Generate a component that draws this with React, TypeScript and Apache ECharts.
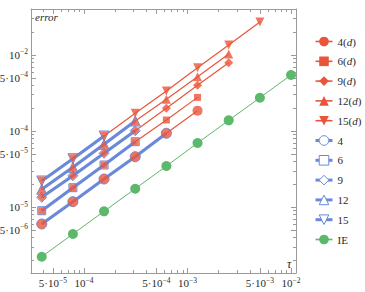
import React, { useEffect, useRef } from "react";
import * as echarts from "echarts";

// time steps tau (x)
const tau = [3.90625e-5, 7.8125e-5, 1.5625e-4, 3.125e-4, 6.25e-4, 1.25e-3, 2.5e-3, 5e-3, 1e-2];

// red series (d)
const err4d = [5.98e-6, 1.175e-5, 2.335e-5, 4.59e-5, 9.33e-5, 1.85e-4];
const err6d = [8.94e-6, 1.795e-5, 3.57e-5, 7.23e-5, 1.395e-4, 2.77e-4];
const err9d = [1.343e-5, 2.58e-5, 5.09e-5, 1.009e-4, 1.99e-4, 3.99e-4, 7.92e-4];
const err12d = [1.71e-5, 3.33e-5, 6.68e-5, 1.355e-4, 2.61e-4, 5.18e-4, 1.03e-3];
const err15d = [2.2e-5, 4.32e-5, 8.59e-5, 1.71e-4, 3.36e-4, 6.81e-4, 1.355e-3, 2.72e-3];

// blue series
const err4 = [5.98e-6, 1.175e-5, 2.335e-5, 4.59e-5, 9.33e-5];
const err6 = [8.94e-6, 1.795e-5, 3.57e-5, 7.23e-5];
const err9 = [1.343e-5, 2.58e-5, 5.09e-5, 1.009e-4];
const err12 = [1.71e-5, 3.33e-5, 6.68e-5, 1.355e-4];
const err15 = [2.2e-5, 4.32e-5, 8.59e-5];

// green
const errIE = [2.22e-6, 4.42e-6, 8.78e-6, 1.74e-5, 3.46e-5, 6.95e-5, 1.38e-4, 2.74e-4, 5.46e-4];

const redNames = ["4(d)", "6(d)", "9(d)", "12(d)", "15(d)"];
const blueNames = ["4", "6", "9", "12", "15"];
const ieName = "IE";

const xLabelValues = [5e-5, 1e-4, 5e-4, 1e-3, 5e-3, 1e-2];
const xLabelTexts = ["5·10^-5", "10^-4", "5·10^-4", "10^-3", "5·10^-3", "10^-2"];
const xMinorValues = [4e-5, 6e-5, 7e-5, 8e-5, 9e-5, 2e-4, 3e-4, 4e-4, 6e-4, 7e-4, 8e-4, 9e-4, 2e-3, 3e-3, 4e-3, 6e-3, 7e-3, 8e-3, 9e-3];
const yLabelValues = [5e-6, 1e-5, 5e-5, 1e-4, 5e-4, 1e-3];
const yLabelTexts = ["5·10^-6", "10^-5", "5·10^-5", "10^-4", "5·10^-4", "10^-2"];
const yMinorValues = [2e-6, 3e-6, 4e-6, 6e-6, 7e-6, 8e-6, 9e-6, 2e-5, 3e-5, 4e-5, 6e-5, 7e-5, 8e-5, 9e-5, 2e-4, 3e-4, 4e-4, 6e-4, 7e-4, 8e-4, 9e-4, 2e-3, 3e-3];

const L = (v: number) => Math.log10(v);
const RED = "#e8553b";
const BLUE = "#6a8ad9";
const GREEN = "#5cb86a";
const FRAME = "#9a9a9a";
const TXT = "#2a2a2a";
const SERIF = '"Liberation Serif", "DejaVu Serif", serif';

const X_MIN = -4.512, X_MAX = -1.952;
const Y_MIN = -5.868, Y_MAX = -2.395;

function richLabel(t: string) {
  const [b, e] = t.split("^");
  return `{b|${b}}{s|${e.replace("-", "−")}}`;
}
function makeFormatter(vals: number[], texts: string[]) {
  return (v: number) => {
    const i = vals.findIndex((x) => Math.abs(L(x) - v) < 1e-6);
    return i >= 0 ? richLabel(texts[i]) : "";
  };
}
const labelRich = {
  b: { fontSize: 11, fontFamily: SERIF, color: TXT, lineHeight: 14 },
  s: { fontSize: 7.5, fontFamily: SERIF, color: TXT, verticalAlign: "top" },
};

function makeAxes(dim: "x" | "y") {
  const isX = dim === "x";
  const min = isX ? X_MIN : Y_MIN;
  const max = isX ? X_MAX : Y_MAX;
  const major = (isX ? xLabelValues : yLabelValues).map(L);
  const minor = (isX ? xMinorValues : yMinorValues).map(L);
  const positions = isX ? ["bottom", "top"] : ["left", "right"];
  const axes: any[] = [];
  positions.forEach((pos, pi) => {
    axes.push({
      type: "value",
      position: pos,
      min,
      max,
      axisLine: { show: true, onZero: false, lineStyle: { color: FRAME, width: 1 } },
      axisTick: { show: true, inside: true, length: 5, customValues: major, lineStyle: { color: FRAME } },
      axisLabel: pi === 0
        ? {
            show: true,
            customValues: major,
            margin: 3,
            formatter: makeFormatter(isX ? xLabelValues : yLabelValues, isX ? xLabelTexts : yLabelTexts),
            rich: labelRich,
          }
        : { show: false },
      splitLine: { show: false },
    });
    axes.push({
      type: "value",
      position: pos,
      min,
      max,
      axisLine: { show: false, onZero: false },
      axisTick: { show: true, inside: true, length: 3, customValues: minor, lineStyle: { color: FRAME } },
      axisLabel: { show: false },
      splitLine: { show: false },
    });
  });
  return axes;
}

const pts = (errs: number[]) => errs.map((e, i) => [L(tau[i]), L(e)]);

export default function App() {
  const ref = useRef<HTMLDivElement>(null);
  useEffect(() => {
    document.body.style.margin = "0";
    const chart = echarts.init(ref.current!, undefined, { renderer: "svg" });
    const redData = [err4d, err6d, err9d, err12d, err15d];
    const blueData = [err4, err6, err9, err12, err15];
    const symbols = ["circle", "rect", "diamond", "triangle", "triangle"];
    const rotates = [0, 0, 0, 0, 180];
    const redSizes = [10, 7, 9, 9, 9];
    const blueSizes = [10, 8, 10, 10, 10];

    const series: any[] = [];
    redNames.forEach((n, i) => {
      series.push({
        type: "line",
        name: n,
        data: pts(redData[i]),
        symbol: symbols[i],
        symbolRotate: rotates[i],
        symbolSize: redSizes[i],
        showSymbol: false,
        lineStyle: { color: RED, width: 1.2 },
        itemStyle: { color: RED },
        z: 1,
        silent: true,
      });
    });
    blueNames.forEach((n, i) => {
      series.push({
        type: "line",
        name: n,
        data: pts(blueData[i]),
        symbol: symbols[i],
        symbolRotate: rotates[i],
        symbolSize: blueSizes[i],
        lineStyle: { color: BLUE, width: 3.2 },
        itemStyle: { color: "transparent", borderColor: BLUE, borderWidth: 1 },
        z: 2,
        silent: true,
      });
    });
    series.push({
      type: "line",
      name: ieName,
      data: pts(errIE),
      symbol: "circle",
      symbolSize: 10,
      lineStyle: { color: GREEN, width: 1 },
      itemStyle: { color: GREEN },
      z: 2,
      silent: true,
    });
    redNames.forEach((n, i) => {
      series.push({
        type: "scatter",
        name: "m" + i,
        data: pts(redData[i]),
        symbol: symbols[i],
        symbolRotate: rotates[i],
        symbolSize: redSizes[i],
        itemStyle: { color: RED },
        z: 4,
        silent: true,
      });
    });

    const legendData: any[] = [
      ...redNames.map((n) => ({ name: n, lineStyle: { color: RED, width: 1.6 }, itemStyle: { color: RED } })),
      ...blueNames.map((n) => ({
        name: n,
        lineStyle: { color: BLUE, width: 3 },
        itemStyle: { color: "#ffffff", borderColor: BLUE, borderWidth: 1 },
      })),
      { name: ieName, lineStyle: { color: GREEN, width: 1.6 }, itemStyle: { color: GREEN } },
    ];

    chart.setOption({
      animation: false,
      grid: { left: 31, right: 69, top: 9, bottom: 19, outerBoundsMode: "none" },
      xAxis: makeAxes("x"),
      yAxis: makeAxes("y"),
      legend: {
        orient: "vertical",
        left: 314,
        top: 36,
        padding: 0,
        itemWidth: 17,
        itemHeight: 12,
        itemGap: 8.8,
        selectedMode: false,
        data: legendData,
        formatter: (name: string) => {
          const m = name.match(/^(\d+)\(d\)$/);
          return m ? `{n|${m[1]}(}{i|d}{n|)}` : `{n|${name}}`;
        },
        textStyle: {
          fontFamily: SERIF,
          fontSize: 11,
          color: TXT,
          rich: {
            n: { fontFamily: SERIF, fontSize: 11, color: TXT, lineHeight: 12 },
            i: { fontFamily: SERIF, fontSize: 11, color: TXT, fontStyle: "italic", lineHeight: 12 },
          },
        },
      },
      graphic: [
        {
          type: "text",
          left: 35,
          top: 11,
          style: { text: "error", font: `italic 11px ${SERIF}`, fill: TXT },
        },
        {
          type: "text",
          left: 287,
          top: 258,
          style: { text: "τ", font: `italic 12px ${SERIF}`, fill: TXT },
        },
      ],
      series,
    });
    return () => chart.dispose();
  }, []);
  return <div ref={ref} style={{ width: 365, height: 292 }} />;
}
